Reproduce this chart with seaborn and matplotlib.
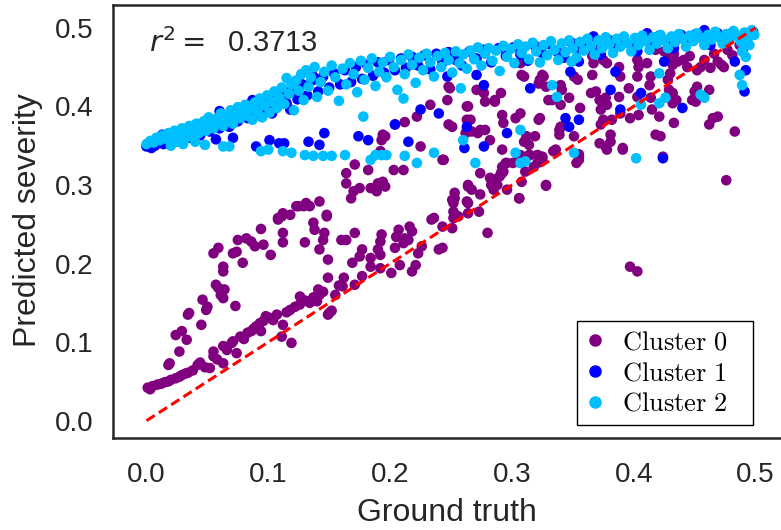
import matplotlib
matplotlib.use("Agg")
import matplotlib.pyplot as plt
from matplotlib.lines import Line2D
import seaborn as sns
import pandas as pd

# ---------------- data ----------------
cluster_names = ["Cluster 0", "Cluster 1", "Cluster 2"]
cluster_colors = ["#800080", "#0000FF", "#00BFFF"]
r2_value = 0.3713
x_ticks = [0.0, 0.1, 0.2, 0.3, 0.4, 0.5]
tick_labels = ["0.0", "0.1", "0.2", "0.3", "0.4", "0.5"]
identity_line = [0.0, 0.5]

cluster0_points = [
    (0.001,0.042),(0.005,0.044),(0.009,0.046),(0.015,0.049),(0.020,0.052),(0.024,0.054),(0.029,0.058),
    (0.034,0.061),(0.042,0.071),(0.044,0.074),(0.052,0.067),(0.055,0.082),(0.055,0.088),(0.063,0.073),
    (0.063,0.095),(0.070,0.099),(0.071,0.101),(0.074,0.086),(0.077,0.107),(0.083,0.112),(0.086,0.114),
    (0.090,0.120),(0.093,0.124),(0.094,0.114),(0.098,0.133),(0.101,0.131),(0.107,0.135),(0.111,0.107),
    (0.112,0.122),(0.118,0.141),(0.119,0.099),(0.126,0.158),(0.126,0.148),(0.134,0.150),(0.140,0.152),
    (0.141,0.167),(0.142,0.160),(0.149,0.135),(0.149,0.182),(0.149,0.205),
    (0.003,0.040),(0.012,0.047),(0.018,0.050),(0.027,0.056),(0.032,0.060),(0.038,0.064),(0.048,0.068),
    (0.058,0.078),(0.066,0.090),(0.080,0.104),(0.088,0.117),(0.096,0.127),(0.104,0.128),(0.115,0.138),
    (0.122,0.145),(0.130,0.153),(0.137,0.157),(0.145,0.164),(0.152,0.140),(0.150,0.137),(0.155,0.160),
    (0.158,0.172),
    (0.264,0.298),(0.267,0.294),(0.274,0.288),(0.263,0.279),(0.253,0.283),(0.252,0.277),(0.264,0.264),
    (0.273,0.266),(0.252,0.258),(0.256,0.260),(0.251,0.245),(0.234,0.256),(0.243,0.247),(0.280,0.239),
    (0.240,0.218),(0.243,0.220),(0.226,0.222),(0.223,0.213),(0.221,0.198),(0.218,0.190),(0.216,0.247),
    (0.218,0.241),(0.215,0.230),(0.212,0.232),(0.211,0.226),(0.207,0.243),(0.205,0.234),(0.204,0.220),
    (0.208,0.198),(0.201,0.188),(0.193,0.237),(0.192,0.228),(0.190,0.218),(0.192,0.211),(0.192,0.194),
    (0.184,0.207),(0.184,0.196),(0.177,0.218),(0.175,0.209),(0.171,0.239),(0.169,0.201),(0.177,0.184),
    (0.171,0.173),(0.162,0.182),(0.161,0.171),(0.164,0.230),(0.160,0.230),
    (0.301,0.328),(0.304,0.330),(0.308,0.328),(0.311,0.317),(0.308,0.304),(0.306,0.283),(0.293,0.317),
    (0.290,0.311),(0.292,0.323),(0.296,0.328),(0.282,0.309),(0.283,0.300),(0.285,0.294),(0.288,0.300),
    (0.318,0.323),(0.321,0.328),(0.314,0.338),(0.321,0.338),(0.328,0.300),(0.334,0.343),
    (0.264,0.300),(0.274,0.315),(0.285,0.307),(0.292,0.315),(0.264,0.277),(0.255,0.260),
    (0.019,0.073),(0.018,0.071),(0.027,0.088),(0.024,0.109),(0.029,0.114),(0.033,0.103),(0.034,0.135),
    (0.035,0.137),(0.045,0.122),(0.046,0.154),(0.049,0.141),(0.050,0.145),(0.057,0.173),(0.059,0.169),
    (0.061,0.160),(0.063,0.156),(0.064,0.167),(0.063,0.190),(0.063,0.196),(0.073,0.146),(0.055,0.213),
    (0.059,0.220),(0.071,0.213),(0.074,0.215),(0.075,0.230),(0.079,0.201),(0.082,0.232),(0.086,0.228),
    (0.089,0.222),(0.096,0.224),(0.094,0.244),(0.102,0.211),(0.108,0.256),(0.111,0.260),(0.112,0.239),
    (0.112,0.227),(0.118,0.262),(0.125,0.273),(0.129,0.273),(0.134,0.273),(0.137,0.252),(0.138,0.243),
    (0.130,0.227),(0.142,0.218),(0.145,0.230),(0.146,0.239),(0.148,0.260),(0.142,0.279),(0.131,0.277),
    (0.123,0.273),(0.112,0.264),(0.108,0.258),
    (0.148,0.262),(0.164,0.315),(0.164,0.302),(0.168,0.283),(0.170,0.292),(0.171,0.326),(0.175,0.296),
    (0.182,0.319),(0.184,0.296),(0.189,0.292),(0.190,0.302),(0.192,0.343),(0.193,0.357),(0.194,0.304),
    (0.196,0.362),(0.196,0.298),(0.203,0.319),(0.204,0.377),(0.211,0.319),(0.212,0.380),(0.222,0.387),
    (0.225,0.349),(0.233,0.402),(0.236,0.258),(0.243,0.332),(0.248,0.377),(0.251,0.374),(0.248,0.425),
    (0.249,0.423),(0.247,0.408),(0.251,0.281),(0.253,0.290),(0.252,0.266),(0.263,0.400),(0.263,0.383),
    (0.262,0.366),(0.267,0.368),(0.266,0.383),(0.271,0.421),(0.272,0.366),(0.274,0.370),(0.278,0.370),
    (0.277,0.417),(0.278,0.406),(0.282,0.357),(0.286,0.408),(0.291,0.417),(0.292,0.389),(0.293,0.379),
    (0.292,0.345),(0.291,0.315),(0.295,0.328),(0.296,0.294),(0.303,0.385),(0.307,0.391),(0.306,0.283),
    (0.307,0.338),(0.310,0.355),(0.312,0.362),(0.314,0.351),(0.315,0.338),(0.319,0.362),(0.321,0.338),
    (0.322,0.383),(0.310,0.438),(0.323,0.434),(0.325,0.440),(0.307,0.455),(0.330,0.408),(0.194,0.364),
    (0.244,0.332),(0.264,0.400),(0.286,0.406),(0.308,0.440),(0.322,0.429),
    (0.326,0.438),(0.328,0.425),(0.333,0.408),(0.340,0.427),(0.341,0.421),(0.340,0.402),(0.351,0.438),
    (0.354,0.434),(0.347,0.411),(0.356,0.398),(0.366,0.464),(0.367,0.455),(0.375,0.459),(0.378,0.455),
    (0.366,0.440),(0.365,0.417),(0.369,0.419),(0.372,0.408),(0.377,0.411),(0.378,0.402),(0.373,0.396),
    (0.375,0.383),(0.373,0.377),(0.372,0.353),(0.382,0.383),(0.381,0.364),(0.389,0.391),(0.388,0.412),
    (0.388,0.450),(0.389,0.438),(0.396,0.423),(0.397,0.385),(0.403,0.459),(0.404,0.450),(0.403,0.438),
    (0.403,0.412),(0.404,0.389),(0.411,0.455),(0.414,0.438),(0.413,0.427),(0.414,0.411),(0.415,0.396),
    (0.421,0.387),(0.418,0.364),(0.422,0.362),(0.418,0.472),(0.425,0.470),(0.429,0.472),(0.428,0.459),
    (0.433,0.467),(0.432,0.453),(0.436,0.457),(0.430,0.442),(0.428,0.434),(0.429,0.421),(0.432,0.417),
    (0.435,0.408),(0.432,0.404),(0.433,0.379),(0.441,0.459),(0.444,0.450),(0.446,0.464),(0.448,0.408),
    (0.450,0.419),(0.451,0.406),(0.452,0.425),(0.452,0.446),(0.455,0.450),(0.458,0.459),(0.462,0.421),
    (0.463,0.449),(0.466,0.467),(0.469,0.457),(0.472,0.453),(0.474,0.450),(0.477,0.472),(0.481,0.465),
    (0.487,0.478),(0.490,0.474),(0.493,0.483),(0.465,0.385),(0.469,0.387),(0.462,0.377),(0.483,0.368),
    (0.377,0.349),(0.381,0.355),(0.391,0.347),(0.424,0.336),(0.355,0.336),(0.353,0.328),(0.351,0.362),
    (0.336,0.345),(0.339,0.370),(0.340,0.374),(0.339,0.364),(0.323,0.385),(0.325,0.336),(0.325,0.334),
    (0.328,0.299),(0.355,0.332),(0.355,0.339),(0.378,0.345),(0.391,0.345),(0.476,0.306),(0.397,0.196),
    (0.403,0.190),(0.488,0.485),(0.493,0.489),
]

cluster1_points = [
    (0.000,0.349),(0.003,0.353),(0.007,0.350),(0.010,0.356),(0.014,0.352),(0.017,0.358),(0.021,0.354),
    (0.025,0.361),(0.028,0.357),(0.032,0.365),(0.036,0.360),(0.040,0.370),(0.044,0.363),(0.047,0.376),
    (0.052,0.368),(0.056,0.381),(0.060,0.372),(0.064,0.386),(0.067,0.377),(0.071,0.391),(0.075,0.381),
    (0.079,0.396),(0.083,0.385),(0.087,0.401),(0.091,0.390),(0.095,0.405),(0.099,0.396),(0.103,0.410),
    (0.107,0.399),(0.111,0.416),(0.115,0.404),(0.119,0.422),(0.124,0.409),(0.128,0.428),(0.132,0.414),
    (0.136,0.433),(0.141,0.419),(0.145,0.438),(0.150,0.424),(0.154,0.442),(0.159,0.428),(0.163,0.446),
    (0.168,0.431),(0.172,0.450),(0.177,0.435),(0.181,0.453),(0.186,0.439),(0.190,0.456),(0.195,0.443),
    (0.199,0.459),(0.204,0.446),(0.209,0.461),(0.213,0.449),(0.218,0.463),(0.223,0.452),(0.228,0.465),
    (0.233,0.447),(0.238,0.467),(0.243,0.456),(0.248,0.469),(0.254,0.459),(0.259,0.452),(0.265,0.470),
    (0.271,0.461),(0.277,0.472),(0.283,0.456),(0.289,0.474),(0.295,0.464),(0.301,0.475),(0.307,0.466),
    (0.313,0.458),(0.319,0.477),(0.325,0.468),(0.331,0.479),(0.337,0.470),(0.343,0.462),(0.349,0.481),
    (0.355,0.472),(0.361,0.483),(0.367,0.474),(0.373,0.466),(0.379,0.485),(0.385,0.477),(0.391,0.487),
    (0.397,0.479),(0.403,0.470),(0.409,0.488),(0.415,0.481),(0.421,0.490),(0.427,0.483),(0.433,0.474),
    (0.439,0.491),(0.445,0.485),(0.451,0.492),(0.457,0.487),(0.463,0.478),(0.469,0.493),(0.475,0.488),
    (0.481,0.494),(0.487,0.489),(0.493,0.480),(0.498,0.495),
    (0.057,0.358),(0.071,0.360),(0.090,0.349),(0.101,0.357),(0.109,0.353),(0.113,0.353),(0.133,0.355),
    (0.142,0.351),(0.146,0.366),(0.174,0.362),(0.182,0.357),(0.215,0.355),(0.204,0.377),(0.225,0.396),
    (0.240,0.391),(0.261,0.347),(0.277,0.349),(0.296,0.366),(0.315,0.423),(0.277,0.427),(0.263,0.374),
    (0.271,0.440),(0.247,0.438),(0.348,0.444),(0.355,0.457),(0.381,0.421),(0.385,0.444),(0.389,0.396),
    (0.406,0.417),(0.425,0.457),(0.440,0.398),(0.483,0.457),(0.491,0.419),(0.492,0.446),(0.344,0.385),
    (0.347,0.374),(0.355,0.383),(0.424,0.334),(0.004,0.347),(0.045,0.367),
    (0.060,0.394),(0.087,0.408),(0.118,0.396),(0.119,0.419),(0.137,0.438),(0.162,0.447),(0.103,0.391),
    (0.068,0.374),(0.013,0.364),(0.367,0.489),(0.411,0.493),(0.458,0.497),
]

cluster2_points = [
    (0.000,0.352),(0.003,0.356),(0.006,0.354),(0.008,0.360),(0.011,0.357),(0.013,0.363),(0.016,0.359),
    (0.018,0.366),(0.021,0.361),(0.023,0.369),(0.025,0.355),(0.027,0.364),(0.029,0.372),(0.031,0.358),
    (0.033,0.367),(0.035,0.375),(0.037,0.362),(0.039,0.371),(0.041,0.378),(0.043,0.366),(0.045,0.374),
    (0.047,0.381),(0.049,0.369),(0.051,0.386),(0.053,0.377),(0.055,0.372),(0.057,0.384),(0.059,0.379),
    (0.061,0.391),(0.063,0.375),(0.065,0.387),(0.067,0.382),(0.069,0.395),(0.071,0.378),(0.073,0.390),
    (0.075,0.399),(0.077,0.385),(0.079,0.393),(0.081,0.402),(0.083,0.388),(0.085,0.397),(0.087,0.383),
    (0.089,0.405),(0.091,0.394),(0.093,0.410),(0.095,0.386),(0.097,0.401),(0.099,0.414),(0.101,0.392),
    (0.103,0.406),(0.105,0.419),(0.107,0.398),(0.109,0.411),(0.111,0.424),(0.113,0.403),(0.115,0.436),
    (0.117,0.416),(0.119,0.428),(0.121,0.395),(0.123,0.433),(0.125,0.420),(0.127,0.441),(0.129,0.408),
    (0.131,0.446),(0.133,0.425),(0.135,0.437),
    (0.138,0.450),(0.140,0.412),(0.143,0.431),(0.146,0.444),(0.149,0.420),(0.152,0.452),(0.155,0.437),
    (0.158,0.407),(0.161,0.448),(0.164,0.428),(0.167,0.455),(0.170,0.441),(0.173,0.418),(0.176,0.458),
    (0.179,0.434),(0.182,0.449),(0.185,0.461),(0.188,0.426),(0.191,0.444),(0.194,0.456),(0.197,0.437),
    (0.200,0.463),(0.203,0.450),(0.206,0.421),(0.209,0.459),(0.212,0.441),(0.215,0.466),(0.218,0.453),
    (0.221,0.430),(0.224,0.462),(0.227,0.446),(0.230,0.467),(0.233,0.456),(0.236,0.438),(0.239,0.464),
    (0.242,0.450),(0.245,0.468),(0.248,0.459),(0.251,0.443),(0.254,0.470),(0.257,0.455),(0.260,0.466),
    (0.263,0.448),(0.266,0.471),(0.269,0.460),(0.272,0.475),(0.275,0.452),(0.278,0.467),(0.281,0.474),
    (0.284,0.458),(0.287,0.471),(0.290,0.445),(0.293,0.477),(0.296,0.463),(0.299,0.473),(0.302,0.455),
    (0.305,0.479),(0.308,0.468),(0.311,0.476),(0.314,0.460),(0.317,0.481),(0.320,0.470),(0.323,0.456),
    (0.326,0.478),(0.329,0.465),(0.332,0.483),(0.335,0.472),(0.338,0.459),(0.341,0.480),(0.344,0.469),
    (0.347,0.484),(0.350,0.474),(0.353,0.462),(0.356,0.482),(0.359,0.471),(0.362,0.486),(0.365,0.477),
    (0.368,0.466),(0.371,0.484),(0.374,0.474),(0.377,0.488),(0.380,0.479),(0.383,0.468),(0.386,0.486),
    (0.389,0.476),(0.392,0.489),(0.395,0.481),(0.398,0.470),(0.401,0.487),(0.404,0.478),(0.407,0.490),
    (0.410,0.483),(0.413,0.472),(0.416,0.488),(0.419,0.480),(0.422,0.491),(0.425,0.484),(0.428,0.474),
    (0.431,0.489),(0.434,0.482),(0.437,0.492),(0.440,0.486),(0.443,0.476),(0.446,0.490),(0.449,0.483),
    (0.452,0.493),(0.455,0.487),(0.458,0.478),(0.461,0.491),(0.464,0.485),(0.467,0.495),(0.470,0.488),
    (0.473,0.480),(0.476,0.492),(0.479,0.486),(0.482,0.496),(0.485,0.490),(0.488,0.482),(0.491,0.494),
    (0.494,0.488),(0.497,0.497),(0.499,0.491),(0.495,0.478),(0.489,0.470),(0.492,0.463),
    (0.094,0.343),(0.100,0.345),(0.112,0.343),(0.119,0.341),(0.130,0.338),(0.137,0.337),(0.145,0.337),
    (0.152,0.337),(0.163,0.338),(0.184,0.332),(0.188,0.338),(0.193,0.338),(0.197,0.338),(0.212,0.337),
    (0.222,0.328),(0.236,0.341),(0.178,0.387),(0.211,0.410),(0.258,0.423),(0.270,0.328),(0.260,0.357),
    (0.307,0.370),(0.303,0.341),(0.311,0.330),(0.307,0.328),(0.333,0.427),(0.337,0.412),(0.349,0.457),
    (0.421,0.442),(0.421,0.404),(0.426,0.411),(0.455,0.415),(0.458,0.411),(0.487,0.440),(0.489,0.427),
    (0.351,0.341),(0.402,0.334),(0.406,0.402),(0.048,0.351),(0.063,0.349),(0.068,0.349),(0.040,0.355),
    (0.030,0.352),(0.020,0.350),
]

# ---------------- build table ----------------
rows = []
for name, pts in zip(cluster_names, [cluster0_points, cluster1_points, cluster2_points]):
    for gx, gy in pts:
        rows.append({"Ground truth": gx, "Predicted severity": gy, "cluster": name})
df = pd.DataFrame(rows)

# ---------------- style ----------------
sns.set_theme(style="white")
plt.rcParams["font.family"] = ["Liberation Sans", "DejaVu Sans"]
plt.rcParams["axes.edgecolor"] = "#262626"

W, H = 781, 530
fig = plt.figure(figsize=(W / 100, H / 100), dpi=100)
left_px, right_px, top_px, bottom_px = 113, 789, 5, 438
ax = fig.add_axes([left_px / W, 1 - bottom_px / H, (right_px - left_px) / W, (bottom_px - top_px) / H])

palette = dict(zip(cluster_names, cluster_colors))
sns.scatterplot(data=df, x="Ground truth", y="Predicted severity", hue="cluster",
                palette=palette, s=58, linewidth=0, alpha=1.0, ax=ax, legend=False, zorder=2)

ax.plot(identity_line, identity_line, color="red", linestyle="--", linewidth=2.2,
        dashes=(3.2, 1.6), zorder=3)

ax.set_xlim(-0.0275, 0.5275)
ax.set_ylim(-0.022, 0.529)
ax.set_xticks(x_ticks)
ax.set_xticklabels(tick_labels)
ax.set_yticks(x_ticks)
ax.set_yticklabels(tick_labels)
ax.tick_params(axis="both", labelsize=20, length=0, colors="#262626")
ax.tick_params(axis="x", pad=17)
ax.tick_params(axis="y", pad=14)
for sp in ax.spines.values():
    sp.set_linewidth(1.8)
    sp.set_color("#262626")

ax.set_xlabel("Ground truth", fontsize=23, color="#262626")
ax.set_ylabel("Predicted severity", fontsize=23, color="#262626")
ax.xaxis.set_label_coords(0.494, -0.138)
ax.yaxis.set_label_coords(-0.104, 0.503)

ax.text(0.002, 0.4695, r"$r^2 = $  " + f"{r2_value:.4f}", fontsize=21, color="#262626",
        ha="left", va="baseline")

handles = [Line2D([], [], marker="o", linestyle="", color=c, markersize=8) for c in cluster_colors]
labels = [r"$\mathrm{" + n.replace(" ", r"\ ") + "}$" for n in cluster_names]
leg_x0 = (577 - left_px) / (right_px - left_px)
leg_w = (753 - 577) / (right_px - left_px)
leg_y0 = (bottom_px - 425) / (bottom_px - top_px)
leg_h = (425 - 316) / (bottom_px - top_px)
leg = ax.legend(handles, labels, loc="lower left", bbox_to_anchor=(leg_x0, leg_y0, leg_w, leg_h),
                mode="expand", borderaxespad=0, fontsize=19, frameon=True, fancybox=False,
                framealpha=1, edgecolor="black", handlelength=0.7, handletextpad=0.65,
                labelspacing=0.25, borderpad=0.35)
leg.get_frame().set_linewidth(1.0)
for t in leg.get_texts():
    t.set_math_fontfamily("cm")
    t.set_color("black")

fig.savefig("out.png", dpi=100)
